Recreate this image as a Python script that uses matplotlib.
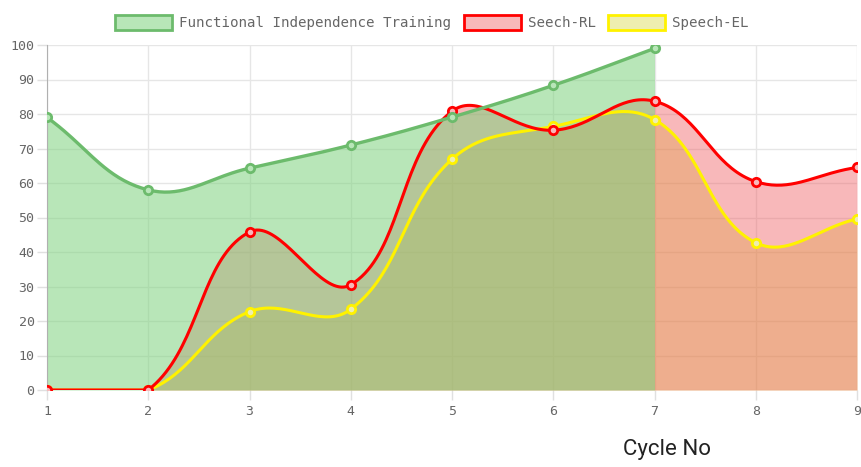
import numpy as np
import matplotlib
matplotlib.use("Agg")
import matplotlib.pyplot as plt
from matplotlib.patches import Patch

# dados
ciclos = [1, 2, 3, 4, 5, 6, 7, 8, 9]
fit_vals = [79, 58, 64.3, 71, 79.1, 88.3, 99]          # so ate o ciclo 7
rl_vals = [0, 0, 45.8, 30.5, 80.8, 75.3, 83.7, 60.4, 64.5]
el_vals = [0, 0, 22.7, 23.4, 66.9, 76.4, 78.4, 42.7, 49.6]
nomes = ["Functional Independence Training", "Seech-RL", "Speech-EL"]

W, H = 861, 467
fig = plt.figure(figsize=(W / 100, H / 100), dpi=100)
ax = fig.add_axes([47 / W, 1 - 390 / H, (857 - 47) / W, (390 - 45) / H])
ax.set_xlim(1, 9)
ax.set_ylim(0, 100)


# curva igual ao chart.js (tension 0.4), calculada em pixels
def curva(xs, ys, t=0.4, n=40):
    pts = ax.transData.transform(np.column_stack([xs, ys]))
    x0, y0 = ax.transData.transform((1, 0))
    x1, y1 = ax.transData.transform((9, 100))
    N = len(pts)
    cp_prev, cp_next = [], []
    for i in range(N):
        p = pts[max(i - 1, 0)]
        c = pts[i]
        q = pts[min(i + 1, N - 1)]
        d01 = np.hypot(*(c - p))
        d12 = np.hypot(*(q - c))
        tot = d01 + d12
        s01 = d01 / tot if tot else 0
        s12 = d12 / tot if tot else 0
        a = c - t * s01 * (q - p)
        b = c + t * s12 * (q - p)
        a = np.array([np.clip(a[0], x0, x1), np.clip(a[1], y0, y1)])
        b = np.array([np.clip(b[0], x0, x1), np.clip(b[1], y0, y1)])
        cp_prev.append(a)
        cp_next.append(b)
    out = [pts[0]]
    s = np.linspace(0, 1, n)[1:, None]
    for i in range(N - 1):
        P0, P1, P2, P3 = pts[i], cp_next[i], cp_prev[i + 1], pts[i + 1]
        seg = (1 - s) ** 3 * P0 + 3 * (1 - s) ** 2 * s * P1 + 3 * (1 - s) * s ** 2 * P2 + s ** 3 * P3
        out.extend(seg)
    out = ax.transData.inverted().transform(np.array(out))
    return out[:, 0], out[:, 1]


# (x, y, cor da linha, preenchimento rgba, cor da legenda, largura)
series = [
    (ciclos[:len(fit_vals)], fit_vals, "#6cbb6c", (126 / 255, 210 / 255, 126 / 255, 0.55), "#b8e6b8", 2.4),
    (ciclos, rl_vals, "#ff0000", (240 / 255, 98 / 255, 102 / 255, 0.45), "#f8b8ba", 2.2),
    (ciclos, el_vals, "#fff200", (200 / 255, 200 / 255, 0.0, 0.31), "#eeeeb0", 2.2),
]

# chart.js desenha do ultimo para o primeiro
for k, (xs, ys, cor, fill, leg, lw) in reversed(list(enumerate(series))):
    cx, cy = curva(xs, ys)
    ax.fill_between(cx, 0, cy, color=fill, linewidth=0, zorder=1)
for k, (xs, ys, cor, fill, leg, lw) in reversed(list(enumerate(series))):
    cx, cy = curva(xs, ys)
    z = 5 + (2 - k)
    ax.plot(cx, cy, color=cor, lw=lw, zorder=z, solid_capstyle="round")
    ax.plot(xs, ys, "o", ms=6, mfc=leg, mec=cor, mew=2, zorder=z)

ax.set_xticks(ciclos)
ax.set_yticks(range(0, 101, 10))
ax.grid(True, color="#e6e6e6", lw=1, zorder=0)
ax.set_axisbelow(True)
for s in ["top", "right", "bottom"]:
    ax.spines[s].set_visible(False)
ax.spines["left"].set_color("#b0b0b0")
ax.tick_params(axis="both", colors="#e0e0e0", length=7, width=1,
               labelcolor="#666666", labelsize=9.5)
ax.tick_params(axis="y", pad=2)
ax.tick_params(axis="x", pad=4)
for lab in ax.get_xticklabels() + ax.get_yticklabels():
    lab.set_fontfamily("DejaVu Sans Mono")

handles = [Patch(facecolor=s[4], edgecolor=s[2], linewidth=2) for s in series]
leg = fig.legend(handles, nomes, loc="center", bbox_to_anchor=(432 / W, 1 - 22.5 / H), ncol=3,
                 frameon=False, handlelength=4.0, handleheight=1.2, handletextpad=0.5,
                 columnspacing=0.9, prop={"family": "DejaVu Sans Mono", "size": 10.2})
for txt in leg.get_texts():
    txt.set_color("#666666")

fig.text(667 / W, 1 - 450 / H, "Cycle No", ha="center", va="center",
         fontsize=16, family="Roboto", color="#222222")

fig.savefig("out.png", dpi=100)
